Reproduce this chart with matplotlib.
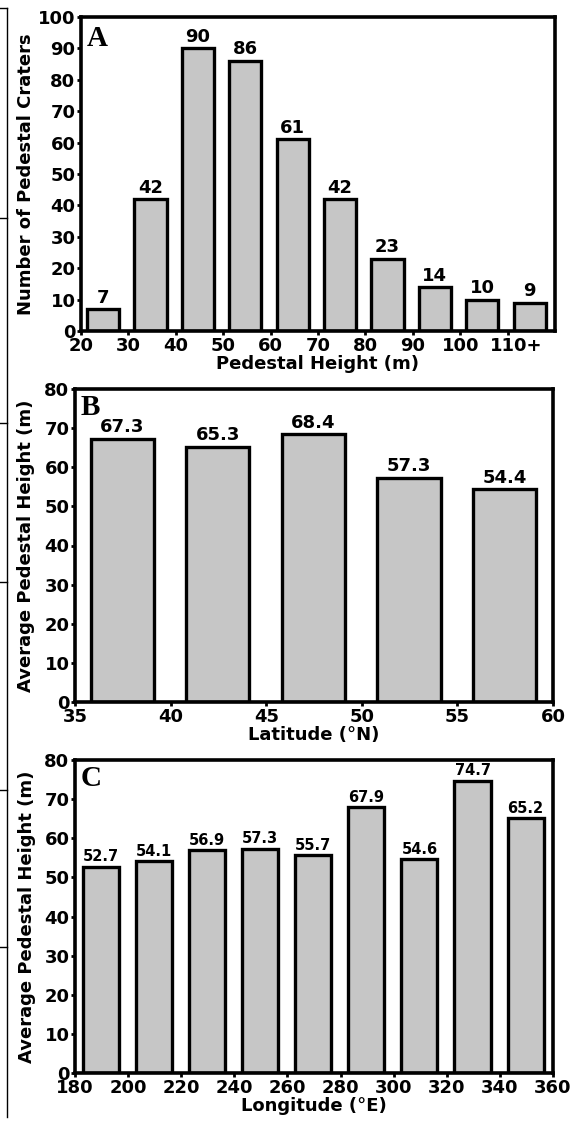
import matplotlib
matplotlib.use("Agg")
import matplotlib.pyplot as plt
from matplotlib.lines import Line2D
from matplotlib.transforms import ScaledTranslation

# panel A: histogram of pedestal heights
a_left = [20, 30, 40, 50, 60, 70, 80, 90, 100, 110]
a_counts = [7, 42, 90, 86, 61, 42, 23, 14, 10, 9]
a_ticklabels = ['20', '30', '40', '50', '60', '70', '80', '90', '100', '110+']

# panel B: mean height by latitude band
b_left = [35, 40, 45, 50, 55]
b_mean = [67.3, 65.3, 68.4, 57.3, 54.4]

# panel C: mean height by longitude band
c_left = [180, 200, 220, 240, 260, 280, 300, 320, 340]
c_mean = [52.7, 54.1, 56.9, 57.3, 55.7, 67.9, 54.6, 74.7, 65.2]

W, H = 579, 1124
DPI = 100
fig = plt.figure(figsize=(W / DPI, H / DPI), dpi=DPI)

grey = '#c6c6c6'
bold = dict(fontweight='bold', family='DejaVu Sans')


def px_axes(l, t, r, b):
    return fig.add_axes([l / W, 1 - b / H, (r - l) / W, (b - t) / H])


def style(ax):
    for s in ax.spines.values():
        s.set_linewidth(2.6)
    ax.tick_params(direction='out', length=3, width=2, labelsize=13, pad=1)
    for lab in ax.get_xticklabels() + ax.get_yticklabels():
        lab.set_fontweight('bold')


def bars(ax, x, vals, width, fmt, fs, gap):
    rects = ax.bar(x, vals, width=width, color=grey, edgecolor='black',
                   linewidth=2.4, align='center')
    for r, v in zip(rects, vals):
        ax.text(r.get_x() + r.get_width() / 2, v + gap, fmt.format(v),
                ha='center', va='bottom', fontsize=fs, **bold)


# ---- A ----
axA = px_axes(81, 17, 555, 331)
bars(axA, [v + 4.65 for v in a_left], a_counts, 6.8, '{:d}', 13, 0.8)
axA.set_xlim(20, 120)
axA.set_ylim(0, 100)
axA.set_yticks(range(0, 101, 10))
axA.set_xticks(a_left)
axA.set_xticklabels(a_ticklabels)
style(axA)
last = axA.get_xticklabels()[-1]
last.set_transform(last.get_transform() + ScaledTranslation(9 / DPI, 0, fig.dpi_scale_trans))
axA.set_xlabel('Pedestal Height (m)', fontsize=13, labelpad=0, **bold)
axA.set_ylabel('Number of Pedestal Craters', fontsize=13, labelpad=2, **bold)
axA.text(0.012, 0.975, 'A', transform=axA.transAxes, ha='left', va='top',
         fontsize=21, fontweight='bold', family='Liberation Serif')

# ---- B ----
axB = px_axes(75, 389, 553, 702)
bars(axB, [v + 2.47 for v in b_left], b_mean, 3.3, '{:.1f}', 13, 0.6)
axB.set_xlim(35, 60)
axB.set_ylim(0, 80)
axB.set_yticks(range(0, 81, 10))
axB.set_xticks(range(35, 61, 5))
style(axB)
axB.set_xlabel('Latitude (\u00b0N)', fontsize=13, labelpad=0, **bold)
axB.set_ylabel('Average Pedestal Height (m)', fontsize=13, labelpad=7, **bold)
axB.text(0.012, 0.985, 'B', transform=axB.transAxes, ha='left', va='top',
         fontsize=21, fontweight='bold', family='Liberation Serif')

# ---- C ----
axC = px_axes(75, 760, 553, 1073)
bars(axC, [v + 9.7 for v in c_left], c_mean, 13.6, '{:.1f}', 10.5, 0.6)
axC.set_xlim(180, 360)
axC.set_ylim(0, 80)
axC.set_yticks(range(0, 81, 10))
axC.set_xticks(range(180, 361, 20))
style(axC)
axC.set_xlabel('Longitude (\u00b0E)', fontsize=13, labelpad=0, **bold)
axC.set_ylabel('Average Pedestal Height (m)', fontsize=13, labelpad=6, **bold)
axC.text(0.012, 0.985, 'C', transform=axC.transAxes, ha='left', va='top',
         fontsize=21, fontweight='bold', family='Liberation Serif')

# cropped frame of a neighbouring figure along the left edge
def fig_line(xs, ys):
    fig.add_artist(Line2D([x / W for x in xs], [1 - y / H for y in ys],
                          color='black', linewidth=1.0))

fig_line([7, 7], [8, 1117])
for yy in [8, 218, 423, 582, 790, 947]:
    fig_line([0, 7], [yy, yy])

fig.savefig('out.png', dpi=DPI)
